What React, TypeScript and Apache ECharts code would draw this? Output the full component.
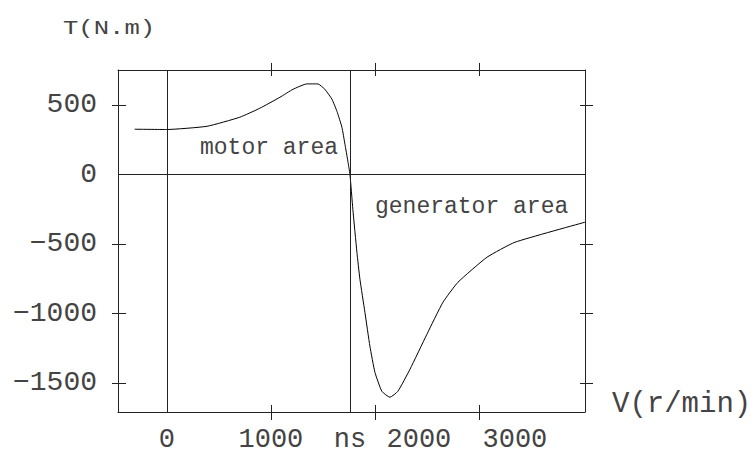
import React, { useEffect, useRef } from "react";
import * as echarts from "echarts";

const speed = [-310, 0, 385, 700, 894, 1087, 1212, 1346, 1452, 1519, 1587, 1635, 1683, 1712, 1740, 1760, 1788, 1827, 1856, 1904, 1952, 2000, 2067, 2144, 2221, 2337, 2500, 2654, 2798, 3077, 3346, 4019];
const torque = [324, 322, 345, 410, 475, 554, 611, 650, 650, 611, 540, 453, 338, 216, 94, 0, -252, -561, -755, -993, -1237, -1424, -1561, -1604, -1561, -1403, -1151, -921, -777, -597, -489, -345];
const xTicks = [1000, 2000, 3000];
const xLabels = [0, 1000, 1760, 2000, 3000];
const yTicks = [-1500, -1000, -500, 500];
const yLabels = [-1500, -1000, -500, 0, 500];
const ns = 1760;
const xMin = -470;
const xMax = 4020;
const yMin = -1710;
const yMax = 750;

const FONT = "Liberation Mono";
const TXT = "#444";
const LINE = "#222";

export default function App() {
  const ref = useRef<HTMLDivElement>(null);
  useEffect(() => {
    if (!ref.current) return;
    const chart = echarts.init(ref.current, undefined, { renderer: "svg" });
    const baseX = { type: "value", min: xMin, max: xMax, splitLine: { show: false } };
    const baseY = { type: "value", min: yMin, max: yMax, splitLine: { show: false } };
    const minus = (v: number) => String(v).replace("-", "\u2212");
    chart.setOption({
      animation: false,
      backgroundColor: "#fff",
      grid: { left: 118, top: 70, width: 467, height: 342, show: false },
      xAxis: [
        {
          ...baseX,
          position: "bottom",
          axisLine: { show: true, onZero: false, lineStyle: { color: LINE, width: 1 } },
          axisTick: { show: true, inside: false, length: 8, customValues: xTicks, lineStyle: { color: LINE } },
          axisLabel: {
            customValues: xLabels,
            margin: 14,
            color: TXT,
            fontFamily: FONT,
            fontSize: 27,
            formatter: (v: number) => {
              if (v === ns) return "ns";
              if (v === 2000) return "{a|2000}";
              if (v === 3000) return "{b|3000}";
              return String(v);
            },
            rich: {
              a: { fontFamily: FONT, fontSize: 27, color: TXT, padding: [0, 0, 0, 88] },
              b: { fontFamily: FONT, fontSize: 27, color: TXT, padding: [0, 0, 0, 72] },
            },
          },
        },
        {
          ...baseX,
          position: "bottom",
          axisLine: { show: false, onZero: false },
          axisTick: { show: true, inside: true, length: 7, customValues: xTicks, lineStyle: { color: LINE } },
          axisLabel: { show: false },
        },
        {
          ...baseX,
          position: "top",
          axisLine: { show: true, onZero: false, lineStyle: { color: LINE, width: 1 } },
          axisTick: { show: true, inside: false, length: 7, customValues: xTicks, lineStyle: { color: LINE } },
          axisLabel: { show: false },
        },
        {
          ...baseX,
          position: "top",
          axisLine: { show: false, onZero: false },
          axisTick: { show: true, inside: true, length: 6, customValues: xTicks, lineStyle: { color: LINE } },
          axisLabel: { show: false },
        },
      ],
      yAxis: [
        {
          ...baseY,
          position: "left",
          axisLine: { show: true, onZero: false, lineStyle: { color: LINE, width: 1 } },
          axisTick: { show: true, inside: false, length: 6, customValues: yTicks, lineStyle: { color: LINE } },
          axisLabel: {
            customValues: yLabels,
            margin: 21,
            color: TXT,
            fontFamily: FONT,
            fontSize: 28,
            formatter: (v: number) => minus(v),
          },
        },
        {
          ...baseY,
          position: "left",
          axisLine: { show: false, onZero: false },
          axisTick: { show: true, inside: true, length: 8, customValues: yTicks, lineStyle: { color: LINE } },
          axisLabel: { show: false },
        },
        {
          ...baseY,
          position: "right",
          axisLine: { show: true, onZero: false, lineStyle: { color: LINE, width: 1 } },
          axisTick: { show: true, inside: false, length: 8, customValues: yTicks, lineStyle: { color: LINE } },
          axisLabel: { show: false },
        },
        {
          ...baseY,
          position: "right",
          axisLine: { show: false, onZero: false },
          axisTick: { show: true, inside: true, length: 5, customValues: yTicks, lineStyle: { color: LINE } },
          axisLabel: { show: false },
        },
      ],
      series: [
        {
          type: "line",
          xAxisIndex: 0,
          yAxisIndex: 0,
          data: speed.map((s, i) => [s, torque[i]]),
          showSymbol: false,
          smooth: 0.15,
          lineStyle: { color: "#000", width: 1 },
          markLine: {
            silent: true,
            symbol: ["none", "none"],
            label: { show: false },
            lineStyle: { type: "solid", color: LINE, width: 1 },
            data: [{ xAxis: 0 }, { xAxis: ns }, { yAxis: 0 }],
          },
        },
      ],
      graphic: [
        {
          type: "text",
          x: 63,
          y: 29,
          scaleX: 1.22,
          style: { text: "T(N.m)", fontFamily: FONT, fontSize: 21, fill: TXT, verticalAlign: "middle", align: "left" },
        },
        {
          type: "text",
          x: 200,
          y: 148,
          style: { text: "motor area", fontFamily: FONT, fontSize: 23, fill: TXT, verticalAlign: "middle", align: "left" },
        },
        {
          type: "text",
          x: 375,
          y: 207,
          style: { text: "generator area", fontFamily: FONT, fontSize: 23, fill: TXT, verticalAlign: "middle", align: "left" },
        },
        {
          type: "text",
          x: 612,
          y: 404,
          style: { text: "V(r/min)", fontFamily: FONT, fontSize: 29, fill: TXT, verticalAlign: "middle", align: "left" },
        },
      ],
    });
    return () => chart.dispose();
  }, []);
  return <div ref={ref} style={{ position: "fixed", left: 0, top: 0, width: 754, height: 455 }} />;
}
